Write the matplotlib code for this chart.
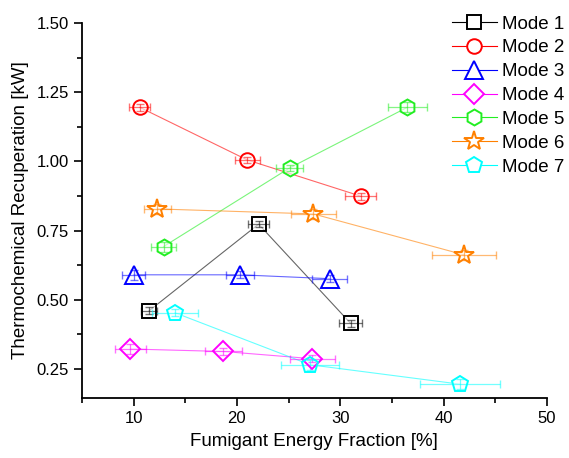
import matplotlib.pyplot as plt
from matplotlib.ticker import MultipleLocator

plt.rcParams["font.family"] = ["Liberation Sans", "DejaVu Sans"]

# data
labels = ["Mode 1", "Mode 2", "Mode 3", "Mode 4", "Mode 5", "Mode 6", "Mode 7"]
fraction = [
    [11.5, 22.1, 31.0],
    [10.6, 21.0, 32.0],
    [10.0, 20.3, 29.0],
    [9.7, 18.7, 27.3],
    [12.9, 25.1, 36.5],
    [12.3, 27.4, 42.0],
    [14.0, 27.1, 41.6],
]
fraction_err = [
    [0.8, 1.0, 1.1],
    [1.0, 1.2, 1.5],
    [1.1, 1.4, 1.7],
    [1.5, 1.8, 2.2],
    [1.2, 1.3, 1.9],
    [1.3, 2.2, 3.1],
    [2.2, 2.8, 3.9],
]
recuperation = [
    [0.46, 0.773, 0.415],
    [1.195, 1.005, 0.874],
    [0.59, 0.59, 0.576],
    [0.322, 0.313, 0.287],
    [0.692, 0.976, 1.195],
    [0.828, 0.81, 0.662],
    [0.453, 0.265, 0.195],
]
recuperation_err = [
    [0.012, 0.012, 0.012],
    [0.012, 0.012, 0.012],
    [0.018, 0.012, 0.012],
    [0.018, 0.012, 0.012],
    [0.018, 0.012, 0.018],
    [0.018, 0.018, 0.018],
    [0.012, 0.018, 0.018],
]
colors = ["black", "red", "blue", "magenta", "#22ee22", "#ff8000", "cyan"]
markers = ["s", "o", "^", "D", "h", "*", "p"]
sizes = [9.5, 10.5, 13, 10, 11.5, 15, 12]

fig = plt.figure(figsize=(5.69, 4.58), dpi=100)
ax = fig.add_axes([0.144, 0.131, 0.817, 0.819])

for i in range(len(labels)):
    # connecting line with white filled markers so the line stops at the marker edge
    ax.plot(fraction[i], recuperation[i], color=colors[i], lw=0.8, alpha=0.6,
            marker=markers[i], ms=sizes[i], mfc="white", mec="white", zorder=2)
    ax.errorbar(fraction[i], recuperation[i], xerr=fraction_err[i], yerr=recuperation_err[i],
                fmt="none", ecolor=colors[i], elinewidth=0.9, capsize=3, alpha=0.55, zorder=3)
    ax.plot(fraction[i], recuperation[i], ls="none", marker=markers[i], ms=sizes[i],
            mfc="none", mec=colors[i], mew=1.4, zorder=4)
    # legend proxy
    ax.plot([], [], color=colors[i], lw=0.8, marker=markers[i], ms=sizes[i],
            mfc="white", mec=colors[i], mew=1.4, label=labels[i])

ax.set_xlim(5, 50)
ax.set_ylim(0.145, 1.5)
ax.xaxis.set_major_locator(MultipleLocator(10))
ax.xaxis.set_minor_locator(MultipleLocator(5))
ax.yaxis.set_major_locator(MultipleLocator(0.25))
ax.yaxis.set_minor_locator(MultipleLocator(0.125))
ax.yaxis.set_major_formatter(plt.FormatStrFormatter("%.2f"))
ax.tick_params(which="major", direction="out", length=6, width=1.2, labelsize=12)
ax.tick_params(which="minor", direction="out", length=3.5, width=1.2)
for s in ["top", "right"]:
    ax.spines[s].set_visible(False)
for s in ["left", "bottom"]:
    ax.spines[s].set_linewidth(1.3)

ax.set_xlabel("Fumigant Energy Fraction [%]", fontsize=13.5, labelpad=5)
ax.set_ylabel("Thermochemical Recuperation [kW]", fontsize=13.5, labelpad=5)

ax.legend(loc="upper right", bbox_to_anchor=(1.075, 1.065), frameon=False, fontsize=13.5,
          handlelength=2.4, handletextpad=0.3, labelspacing=0.36)

fig.savefig("out.png", dpi=100)
